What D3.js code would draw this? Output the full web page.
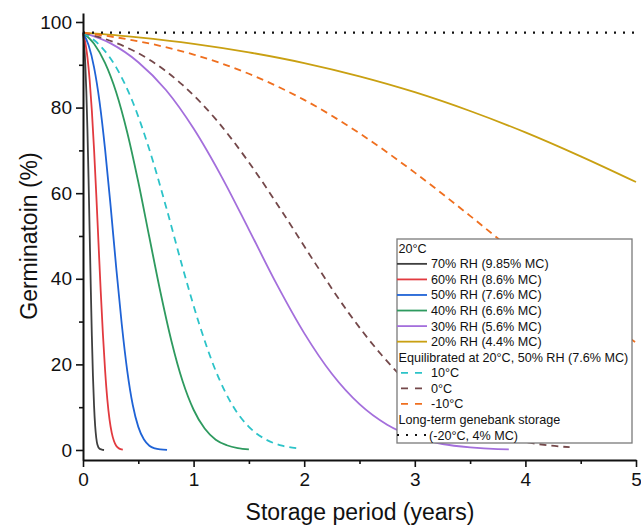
<!DOCTYPE html>
<html>
<head>
<meta charset="UTF-8">
<title>Germination vs storage period</title>
<script src="https://cdn.jsdelivr.net/npm/d3@7"></script>
<style>
body{margin:0;background:white}
text{font-family:"Liberation Sans",Arial,sans-serif;fill:#111}
</style>
</head>
<body>
<script>
// storage period (years) / germination (%)
var t70=[0,0.01,0.02,0.03,0.04,0.05,0.06,0.07,0.08,0.09,0.10,0.11,0.12,0.13,0.15,0.17,0.19]
var g70=[97.5,94.9,90.6,83.9,74.9,63.6,51.0,38.3,26.7,17.3,10.3,5.6,2.8,1.3,0.3,0.1,0]
var t60=[0,0.02,0.04,0.06,0.08,0.10,0.12,0.14,0.16,0.18,0.20,0.22,0.24,0.26,0.28,0.30,0.32,0.34,0.36]
var g60=[97.5,95.3,91.8,86.5,79.3,70.2,59.7,48.4,37.2,27.1,18.5,11.8,7.1,4.0,2.1,1.0,0.45,0.19,0.07]
var t50=[0,0.05,0.10,0.15,0.20,0.25,0.30,0.35,0.40,0.45,0.50,0.55,0.60,0.65,0.70,0.76]
var g50=[97.5,94.6,89.4,81.3,70.2,56.9,42.7,29.5,18.5,10.5,5.4,2.5,1.0,0.36,0.12,0.03]
var t40=[0,0.1,0.2,0.3,0.4,0.5,0.6,0.7,0.8,0.9,1.0,1.1,1.2,1.3,1.4,1.5]
var g40=[97.5,94.9,90.4,83.6,74.2,62.6,49.7,36.9,25.4,16.1,9.4,5.0,2.4,1.1,0.43,0.15]
var t30=[0,0.25,0.5,0.75,1.0,1.25,1.5,1.75,2.0,2.25,2.5,2.75,3.0,3.25,3.5,3.75,3.85]
var g30=[97.5,95.0,90.6,84.1,75.1,64.0,51.5,38.8,27.3,17.8,10.7,5.9,3.0,1.4,0.6,0.2,0.15]
var t20=[0,0.5,1.0,1.5,2.0,2.5,3.0,3.5,4.0,4.5,5.0]
var g20=[97.5,96.4,94.9,92.9,90.4,87.3,83.6,79.2,74.2,68.6,62.6]
var t10c=[0,0.15,0.3,0.45,0.6,0.75,0.9,1.05,1.2,1.35,1.5,1.65,1.8,1.93]
var g10c=[97.5,94.6,89.4,81.3,70.2,56.9,42.7,29.5,18.5,10.5,5.4,2.5,1.0,0.42]
var t0c=[0,0.3,0.6,0.9,1.2,1.5,1.8,2.1,2.4,2.7,3.0,3.3,3.6,3.9,4.2,4.4]
var g0c=[97.5,95.1,91.2,85.3,77.3,67.2,55.7,43.6,32.1,22.2,14.2,8.5,4.7,2.4,1.1,0.65]
var tm10c=[0,0.5,1.0,1.5,2.0,2.5,3.0,3.5,4.0,4.5,5.0]
var gm10c=[97.5,95.5,92.4,87.9,81.8,74.0,64.8,54.7,44.2,34.2,25.1]
var tBank=[0,2.5,5]
var gBank=[97.5,97.5,97.5]

var names=["70% RH (9.85% MC)","60% RH (8.6% MC)","50% RH (7.6% MC)","40% RH (6.6% MC)",
  "30% RH (5.6% MC)","20% RH (4.4% MC)","10°C","0°C","-10°C","(-20°C, 4% MC)"]
var colors=["#3f3f3f","#e23a3f","#1f63d6","#2e9a5f","#a46fdc","#c9a012","#2cc3c8","#74484a","#ef6f1f","#111111"]
var dashes=[null,null,null,null,null,null,"7,5","7,5","7,5","2,7"]
var xTicks=[0,1,2,3,4,5], xMinor=[0.5,1.5,2.5,3.5,4.5]
var yTicks=[0,20,40,60,80,100], yMinor=[10,30,50,70,90]

var series=[[t70,g70],[t60,g60],[t50,g50],[t40,g40],[t30,g30],[t20,g20],[t10c,g10c],[t0c,g0c],[tm10c,gm10c],[tBank,gBank]]

var svg=d3.select("body").append("svg")
 .attr("width",641).attr("height",528)
 .style("background","white")

var x=d3.scaleLinear().domain([0,5]).range([83,636])
var y=d3.scaleLinear().domain([-2.34,102.1]).range([460,13])

var line=d3.line()
 .x(function(d){return x(d[0])})
 .y(function(d){return y(d[1])})
 .curve(d3.curveMonotoneX)

svg.selectAll("path.curve")
 .data(series).enter()
 .append("path")
 .attr("class","curve")
 .attr("d",function(s){return line(d3.zip(s[0],s[1]))})
 .attr("fill","none")
 .attr("stroke",function(s,i){return colors[i]})
 .attr("stroke-width",function(s,i){return i==9?2.2:1.8})
 .attr("stroke-dasharray",function(s,i){return dashes[i]})

// axes
var gx=svg.append("g").attr("transform","translate(0,460)")
 .call(d3.axisBottom(x).tickValues(xTicks).tickSize(7).tickSizeOuter(0).tickPadding(6).tickFormat(d3.format("d")))
svg.append("g").attr("transform","translate(0,460)")
 .call(d3.axisBottom(x).tickValues(xMinor).tickSize(4).tickFormat(""))
 .select(".domain").remove()
var gy=svg.append("g").attr("transform","translate(83,0)")
 .call(d3.axisLeft(y).tickValues(yTicks).tickSize(7).tickSizeOuter(0).tickPadding(4))
svg.append("g").attr("transform","translate(83,0)")
 .call(d3.axisLeft(y).tickValues(yMinor).tickSize(4).tickFormat(""))
 .select(".domain").remove()
svg.selectAll(".domain").attr("stroke","#111").attr("stroke-width",2)
svg.selectAll(".tick line").attr("stroke","#111").attr("stroke-width",1.6)
svg.selectAll(".tick text").attr("font-size",19).attr("font-family","Liberation Sans, Arial, sans-serif").attr("fill","#111")

svg.append("text").attr("x",360).attr("y",520).attr("text-anchor","middle")
 .attr("font-size",23).text("Storage period (years)")
svg.append("text").attr("transform","translate(37,236) rotate(-90)").attr("text-anchor","middle")
 .attr("font-size",23).text("Germinatoin (%)")

// legend
var lg=svg.append("g")
lg.append("rect").attr("x",397).attr("y",239).attr("width",235).attr("height",204)
 .attr("fill","white").attr("stroke","#7a7a7a").attr("stroke-width",1.3)

var rows=[{head:"20°C"},{k:0},{k:1},{k:2},{k:3},{k:4},{k:5},
  {head:"Equilibrated at 20°C, 50% RH (7.6% MC)"},{k:6},{k:7},{k:8},
  {head:"Long-term genebank storage"},{k:9}]
rows.forEach(function(r,i){
  var cy=248.3+i*15.56
  if(r.head){
    lg.append("text").attr("x",398.5).attr("y",cy+4.5).attr("font-size",12.6).text(r.head)
    return
  }
  var k=r.k, x0=397, x1=427
  if(k>=6&&k<9){x0=401;x1=423}
  lg.append("line").attr("x1",x0).attr("x2",x1).attr("y1",cy).attr("y2",cy)
   .attr("stroke",colors[k]).attr("stroke-width",k==9?2.2:1.8)
   .attr("stroke-dasharray",k>=6&&k<9?"7,7":dashes[k])
  lg.append("text").attr("x",k==9?429:431).attr("y",cy+4.5).attr("font-size",12.6).text(names[k])
})
</script>
</body>
</html>
